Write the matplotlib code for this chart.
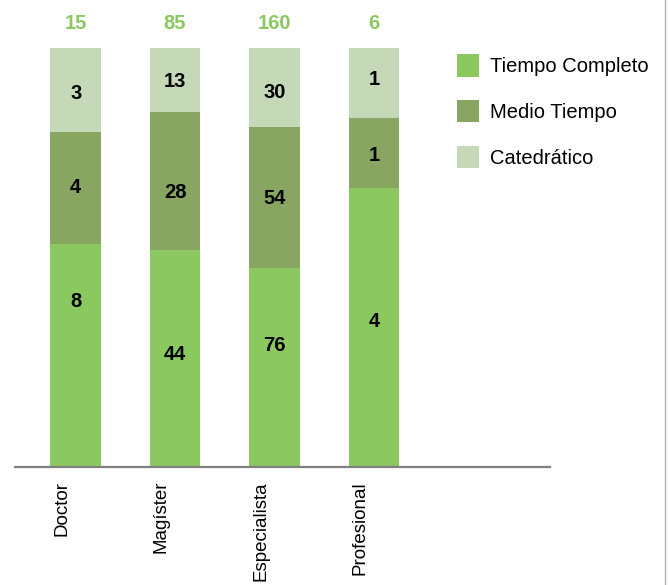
import matplotlib.pyplot as plt
import matplotlib.transforms as mtransforms
import numpy as np
from matplotlib.lines import Line2D

plt.rcParams["font.family"] = ["Liberation Sans", "DejaVu Sans"]

categories = ["Doctor", "Magíster", "Especialista", "Profesional"]
series_names = ["Tiempo Completo", "Medio Tiempo", "Catedrático"]
tiempo_completo = [8, 44, 76, 4]
medio_tiempo = [4, 28, 54, 1]
catedratico = [3, 13, 30, 1]
totals = [15, 85, 160, 6]

colors = ["#8BC960", "#88A561", "#C5D8B8"]
# posición relativa de cada etiqueta dentro de su tramo (como en el original)
label_frac = [
    [0.74, 0.52, 0.61, 0.52],
    [0.50, 0.42, 0.49, 0.46],
    [0.46, 0.47, 0.43, 0.55],
]

fig = plt.figure(figsize=(6.69, 5.85), dpi=100)
ax = fig.add_axes([15 / 669, 118 / 585, 535 / 669, (467 - 48) / 585])

x = np.arange(len(categories))
series = [np.array(tiempo_completo), np.array(medio_tiempo), np.array(catedratico)]
tot = np.array(totals, dtype=float)
bottom = np.zeros(len(categories))
for s, vals in enumerate(series):
    frac = vals / tot
    ax.bar(x, frac, 0.51, bottom=bottom, color=colors[s], label=series_names[s])
    for i in range(len(categories)):
        ax.text(x[i], bottom[i] + frac[i] * label_frac[s][i], str(vals[i]),
                ha="center", va="center", fontsize=14.5, fontweight="bold", color="black")
    bottom += frac

for i, t in enumerate(totals):
    ax.text(x[i], 1.058, str(t), ha="center", va="center", fontsize=14.5,
            fontweight="bold", color="#8BC960", clip_on=False)

ax.set_xlim(-0.61, 4.77)
ax.set_ylim(0, 1)
ax.set_xticks(x)
ax.set_xticklabels(categories, rotation=90, fontsize=13.5, va="top")
ax.tick_params(axis="x", length=0, pad=10)
# las etiquetas del original quedan corridas a la izquierda del centro de la barra
shift = mtransforms.ScaledTranslation(-0.14, 0, fig.dpi_scale_trans)
for lbl in ax.get_xticklabels():
    lbl.set_transform(lbl.get_transform() + shift)
ax.set_yticks([])
for spine in ("left", "right", "top"):
    ax.spines[spine].set_visible(False)
ax.spines["bottom"].set_color("#808080")
ax.spines["bottom"].set_linewidth(1.6)

fig.legend(loc="upper left", bbox_to_anchor=(457 / 669, 1 - 54 / 585),
           frameon=False, fontsize=14.5, borderpad=0, borderaxespad=0,
           handlelength=1.1, handleheight=1.35, handletextpad=0.55, labelspacing=1.15)

fig.add_artist(Line2D([665 / 669, 665 / 669], [0, 1], color="#B0B0B0", linewidth=1))

fig.savefig("out.png", dpi=100)
